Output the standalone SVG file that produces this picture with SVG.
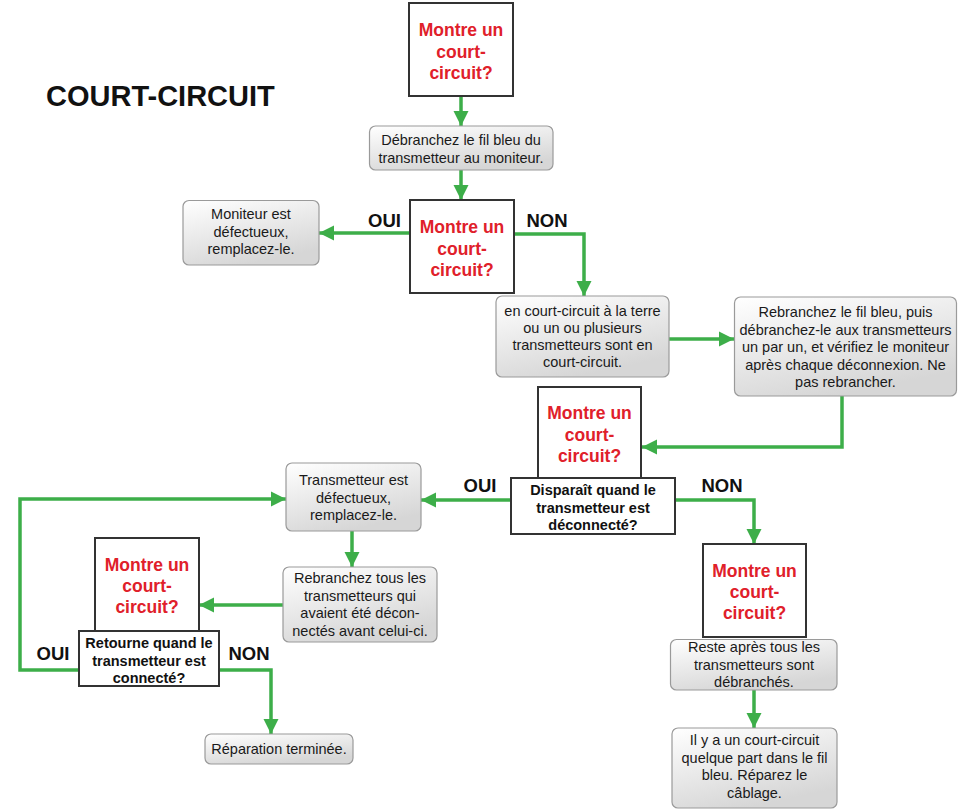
<svg xmlns="http://www.w3.org/2000/svg" width="969" height="809" viewBox="0 0 969 809">
<defs>
<linearGradient id="g" x1="0" y1="0" x2="0.45" y2="1">
<stop offset="0" stop-color="#ffffff"/>
<stop offset="1" stop-color="#d6d6d6"/>
</linearGradient>
<marker id="ah" markerUnits="userSpaceOnUse" markerWidth="16" markerHeight="16" viewBox="0 0 16 16" refX="15" refY="8" orient="auto">
<path d="M0,0.5 L15,8 L0,15.5 Z" fill="#3dae49"/>
</marker>
<style>
.box{fill:url(#g);stroke:#9a9a9a;stroke-width:1.2}
.dec{fill:#ffffff;stroke:#333333;stroke-width:2}
.t{font-family:"Liberation Sans",Arial,sans-serif;font-size:14.5px;fill:#1a1a1a;text-anchor:middle}
.tb{font-family:"Liberation Sans",Arial,sans-serif;font-size:14.5px;font-weight:bold;fill:#111111;text-anchor:middle}
.r{font-family:"Liberation Sans",Arial,sans-serif;font-size:17.5px;font-weight:bold;fill:#e0202a;text-anchor:middle}
.lbl{font-family:"Liberation Sans",Arial,sans-serif;font-size:18.5px;font-weight:bold;fill:#111111;text-anchor:middle}
.c{fill:none;stroke:#3dae49;stroke-width:3.5;marker-end:url(#ah)}
</style>
</defs>
<rect width="969" height="809" fill="#ffffff"/>
<text x="46" y="106" font-family="Liberation Sans,Arial,sans-serif" font-size="29" font-weight="bold" fill="#111111">COURT-CIRCUIT</text>

<g id="connectors">
<path class="c" d="M461,96 V126"/>
<path class="c" d="M461,170 V200"/>
<path class="c" d="M410,233 H319"/>
<path class="c" d="M514,234 H584 V296"/>
<path class="c" d="M669,339 H734"/>
<path class="c" d="M842,396 V447 H642"/>
<path class="c" d="M511,500 H421"/>
<path class="c" d="M675,500 H754 V544"/>
<path class="c" d="M352,531 V567"/>
<path class="c" d="M283,605 H199"/>
<path class="c" d="M79,670 H20 V499 H286"/>
<path class="c" d="M219,670 H271 V734"/>
<path class="c" d="M754,690 V728"/>
<text class="lbl" x="384.5" y="227">OUI</text>
<text class="lbl" x="547" y="227">NON</text>
<text class="lbl" x="480" y="492">OUI</text>
<text class="lbl" x="722" y="492">NON</text>
<text class="lbl" x="53" y="660">OUI</text>
<text class="lbl" x="249" y="660">NON</text>
</g>

<g id="d1">
<rect class="dec" x="409" y="3" width="104" height="93"/>
<text class="r" x="461" y="36">Montre un</text>
<text class="r" x="461" y="57.5">court-</text>
<text class="r" x="461" y="79">circuit?</text>
</g>

<g id="n1">
<rect class="box" x="369.5" y="126" width="183.5" height="44" rx="6"/>
<text class="t" x="461" y="145">Débranchez le fil bleu du</text>
<text class="t" x="461" y="162.5">transmetteur au moniteur.</text>
</g>

<g id="d2">
<rect class="dec" x="410" y="200" width="104" height="93"/>
<text class="r" x="462" y="233">Montre un</text>
<text class="r" x="462" y="254.5">court-</text>
<text class="r" x="462" y="276">circuit?</text>
</g>

<g id="n2">
<rect class="box" x="183" y="200.5" width="136" height="64.5" rx="6"/>
<text class="t" x="251" y="219">Moniteur est</text>
<text class="t" x="251" y="236.5">défectueux,</text>
<text class="t" x="251" y="254">remplacez-le.</text>
</g>

<g id="n3">
<rect class="box" x="496" y="296" width="173" height="81" rx="6"/>
<text class="t" x="582.5" y="316">en court-circuit à la terre</text>
<text class="t" x="582.5" y="333">ou un ou plusieurs</text>
<text class="t" x="582.5" y="350">transmetteurs sont en</text>
<text class="t" x="582.5" y="367">court-circuit.</text>
</g>

<g id="n4">
<rect class="box" x="734.5" y="297" width="222" height="99" rx="6"/>
<text class="t" x="845.5" y="317">Rebranchez le fil bleu, puis</text>
<text class="t" x="845.5" y="334.5">débranchez-le aux transmetteurs</text>
<text class="t" x="845.5" y="352">un par un, et vérifiez le moniteur</text>
<text class="t" x="845.5" y="369.5">après chaque déconnexion. Ne</text>
<text class="t" x="845.5" y="387">pas rebrancher.</text>
</g>

<g id="d3">
<rect class="dec" x="538" y="387" width="103" height="91"/>
<text class="r" x="589.5" y="419">Montre un</text>
<text class="r" x="589.5" y="440.5">court-</text>
<text class="r" x="589.5" y="462">circuit?</text>
<rect class="dec" x="511" y="478" width="164" height="56"/>
<text class="tb" x="593" y="495">Disparaît quand le</text>
<text class="tb" x="593" y="512.5">transmetteur est</text>
<text class="tb" x="593" y="530">déconnecté?</text>
</g>

<g id="n5">
<rect class="box" x="286" y="463" width="135" height="68" rx="6"/>
<text class="t" x="353.5" y="485">Transmetteur est</text>
<text class="t" x="353.5" y="502.5">défectueux,</text>
<text class="t" x="353.5" y="520">remplacez-le.</text>
</g>

<g id="n6">
<rect class="box" x="283" y="567" width="154" height="75" rx="6"/>
<text class="t" x="360" y="583">Rebranchez tous les</text>
<text class="t" x="360" y="600.7">transmetteurs qui</text>
<text class="t" x="360" y="618.3">avaient été décon-</text>
<text class="t" x="360" y="636">nectés avant celui-ci.</text>
</g>

<g id="d4">
<rect class="dec" x="95" y="538" width="104" height="93"/>
<text class="r" x="147" y="571">Montre un</text>
<text class="r" x="147" y="592">court-</text>
<text class="r" x="147" y="613">circuit?</text>
<rect class="dec" x="79" y="631" width="140" height="55"/>
<text class="tb" x="149" y="648">Retourne quand le</text>
<text class="tb" x="149" y="665.5">transmetteur est</text>
<text class="tb" x="149" y="683">connecté?</text>
</g>

<g id="n7">
<rect class="box" x="205" y="734" width="148" height="30" rx="6"/>
<text class="t" x="279" y="754">Réparation terminée.</text>
</g>

<g id="d5">
<rect class="dec" x="703" y="544" width="103" height="93"/>
<text class="r" x="754.5" y="577">Montre un</text>
<text class="r" x="754.5" y="598">court-</text>
<text class="r" x="754.5" y="619">circuit?</text>
</g>

<g id="n8">
<rect class="box" x="670.5" y="639.5" width="166.5" height="50.5" rx="6"/>
<text class="t" x="754" y="652">Reste après tous les</text>
<text class="t" x="754" y="669.5">transmetteurs sont</text>
<text class="t" x="754" y="687">débranchés.</text>
</g>

<g id="n9">
<rect class="box" x="672" y="728" width="165" height="80" rx="6"/>
<text class="t" x="754.5" y="745">Il y a un court-circuit</text>
<text class="t" x="754.5" y="762.7">quelque part dans le fil</text>
<text class="t" x="754.5" y="780.3">bleu. Réparez le</text>
<text class="t" x="754.5" y="798">câblage.</text>
</g>
</svg>
